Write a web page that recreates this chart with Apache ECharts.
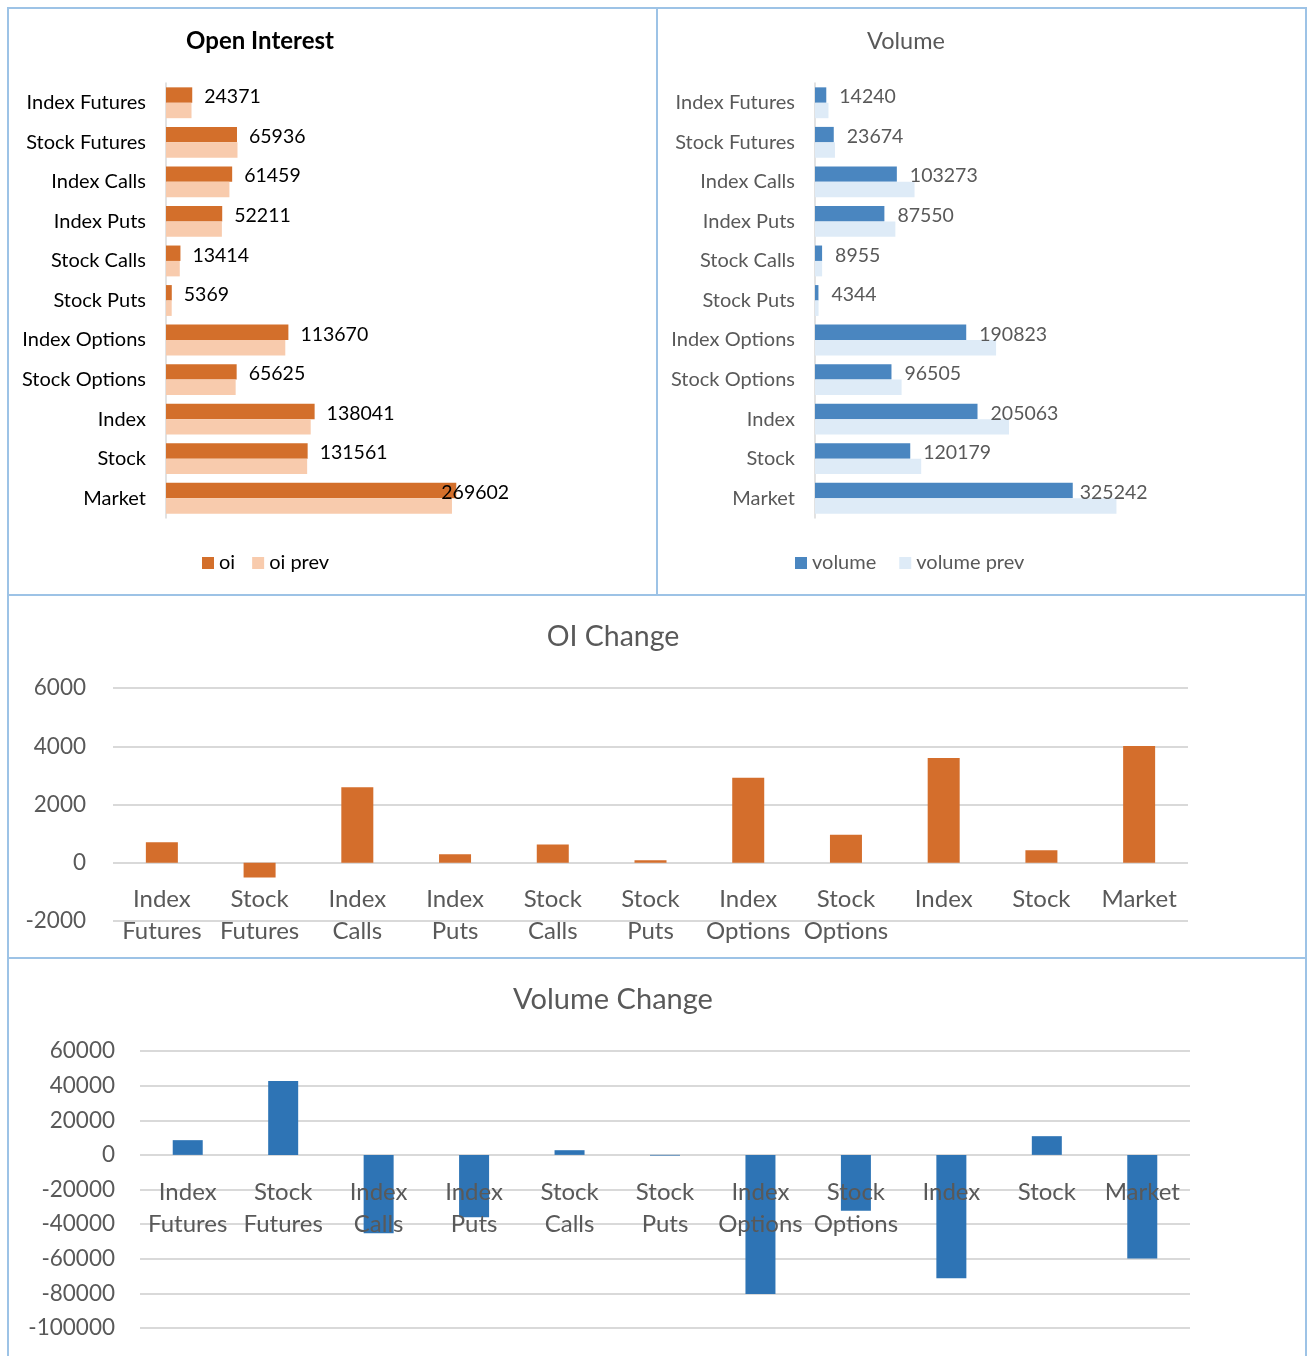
<!DOCTYPE html>
<html>
<head>
<meta charset="utf-8">
<script src="https://cdn.jsdelivr.net/npm/echarts@6/dist/echarts.min.js"></script>
<style>
  html, body { margin: 0; padding: 0; background: #fff; }
  #chart { width: 1308px; height: 1356px; }
</style>
</head>
<body>
<div id="chart"></div>
<script>
const categories = ['Index Futures', 'Stock Futures', 'Index Calls', 'Index Puts', 'Stock Calls', 'Stock Puts',
  'Index Options', 'Stock Options', 'Index', 'Stock', 'Market']

const oi = [24371, 65936, 61459, 52211, 13414, 5369, 113670, 65625, 138041, 131561, 269602]
const oiPrev = [23700, 66400, 58900, 51900, 12800, 5300, 110800, 64700, 134400, 131100, 265600]
const volume = [14240, 23674, 103273, 87550, 8955, 4344, 190823, 96505, 205063, 120179, 325242]
const volumePrev = [17000, 25200, 125600, 101400, 9000, 4500, 228500, 109300, 244800, 134000, 380400]
const oiChange = [700, -510, 2590, 295, 625, 90, 2920, 965, 3600, 430, 4010]
const volumeChange = [8500, 42700, -45200, -36000, 2700, -400, -80400, -32300, -71300, 10800, -59800]

const oiChangeTicks = [-2000, 0, 2000, 4000, 6000]
const volumeChangeTicks = [-100000, -80000, -60000, -40000, -20000, 0, 20000, 40000, 60000]

const FONT = 'Lato'
const GREY = '#595959'
const GRID_LINE = '#d9d9d9'
const BORDER = '#9dc3e6'

const chart = echarts.init(document.getElementById('chart'))

// the last label sits a little closer to its bar, as in the source sheet
const withLastOffset = (arr, dx) => arr.map((v, i) =>
  i === arr.length - 1 ? { value: v, label: { offset: [dx, 2] } } : v)

// plot boxes of the two column charts
const oiBox = { left: 113, top: 688, width: 1075, height: 233 }
const volBox = { left: 140, top: 1051, width: 1050, height: 277 }

// a box ending on the zero line, so the category labels hang from it like in Excel
const zeroBox = (box, ticks) => ({
  left: box.left, top: box.top, width: box.width,
  height: box.height * ticks[ticks.length - 1] / (ticks[ticks.length - 1] - ticks[0]),
  outerBoundsMode: 'none'
})

const hCategoryAxis = (gridIndex, color) => ({
  type: 'category',
  gridIndex,
  data: categories,
  inverse: true,
  axisLine: { show: true, lineStyle: { color: GRID_LINE, width: 1.5 } },
  axisTick: { show: false },
  axisLabel: { color, fontFamily: FONT, fontSize: 20, margin: 20, interval: 0 }
})

const hiddenCategoryAxis = gridIndex => ({
  type: 'category', gridIndex, data: categories,
  axisLine: { show: false }, axisTick: { show: false }, axisLabel: { show: false }
})

const labelCategoryAxis = gridIndex => ({
  type: 'category',
  gridIndex,
  data: categories,
  z: 10,
  axisLine: { show: false },
  axisTick: { show: false },
  axisLabel: {
    color: GREY, fontFamily: FONT, fontSize: 24, lineHeight: 32, margin: 21, interval: 0,
    formatter: v => v.replace(' ', '\n')
  }
})

const valueAxis = (gridIndex, ticks, margin) => ({
  type: 'value',
  gridIndex,
  min: ticks[0],
  max: ticks[ticks.length - 1],
  interval: ticks[1] - ticks[0],
  axisLine: { show: false },
  axisTick: { show: false },
  splitLine: { lineStyle: { color: GRID_LINE, width: 2 } },
  axisLabel: { color: GREY, fontFamily: FONT, fontSize: 22.5, margin, formatter: v => String(v) }
})

const option = {
  animation: false,
  textStyle: { fontFamily: FONT },
  graphic: [
    { type: 'rect', shape: { x: 8, y: 8, width: 649, height: 587 }, style: { fill: 'none', stroke: BORDER, lineWidth: 2 } },
    { type: 'rect', shape: { x: 657, y: 8, width: 649, height: 587 }, style: { fill: 'none', stroke: BORDER, lineWidth: 2 } },
    { type: 'rect', shape: { x: 8, y: 595, width: 1298, height: 363 }, style: { fill: 'none', stroke: BORDER, lineWidth: 2 } },
    { type: 'rect', shape: { x: 8, y: 958, width: 1298, height: 420 }, style: { fill: 'none', stroke: BORDER, lineWidth: 2 } },
    { type: 'text', x: 260, y: 41, style: { text: 'Open Interest', fill: '#000', font: 'bold 24px ' + FONT, textAlign: 'center', textVerticalAlign: 'middle' } },
    { type: 'text', x: 906, y: 41, style: { text: 'Volume', fill: GREY, font: '23.5px ' + FONT, textAlign: 'center', textVerticalAlign: 'middle' } },
    { type: 'text', x: 613, y: 637, style: { text: 'OI Change', fill: GREY, font: '28.5px ' + FONT, textAlign: 'center', textVerticalAlign: 'middle' } },
    { type: 'text', x: 613, y: 1000, style: { text: 'Volume Change', fill: GREY, font: '29px ' + FONT, textAlign: 'center', textVerticalAlign: 'middle' } }
  ],
  legend: [
    {
      data: ['oi', 'oi prev'],
      left: 202, top: 553, padding: 0,
      itemWidth: 12, itemHeight: 12, itemGap: 17,
      icon: 'rect',
      textStyle: { color: '#000', fontFamily: FONT, fontSize: 20 }
    },
    {
      data: ['volume', 'volume prev'],
      left: 795, top: 553, padding: 0,
      itemWidth: 12, itemHeight: 12, itemGap: 23,
      icon: 'rect',
      textStyle: { color: GREY, fontFamily: FONT, fontSize: 20 }
    }
  ],
  grid: [
    { left: 166, top: 83, width: 323, height: 435, outerBoundsMode: 'none' },
    { left: 815, top: 83, width: 317, height: 435, outerBoundsMode: 'none' },
    Object.assign({ outerBoundsMode: 'none' }, oiBox),
    Object.assign({ outerBoundsMode: 'none' }, volBox),
    zeroBox(oiBox, oiChangeTicks),
    zeroBox(volBox, volumeChangeTicks)
  ],
  xAxis: [
    { type: 'value', gridIndex: 0, min: 0, max: 300000, show: false },
    { type: 'value', gridIndex: 1, min: 0, max: 400000, show: false },
    hiddenCategoryAxis(2),
    hiddenCategoryAxis(3),
    labelCategoryAxis(4),
    labelCategoryAxis(5)
  ],
  yAxis: [
    hCategoryAxis(0, '#000'),
    hCategoryAxis(1, GREY),
    valueAxis(2, oiChangeTicks, 27),
    valueAxis(3, volumeChangeTicks, 25),
    { type: 'value', gridIndex: 4, show: false },
    { type: 'value', gridIndex: 5, show: false }
  ],
  series: [
    {
      name: 'oi', type: 'bar', xAxisIndex: 0, yAxisIndex: 0,
      data: withLastOffset(oi, -27),
      barGap: '0%', barCategoryGap: '22%',
      itemStyle: { color: '#d36f2b' },
      label: { show: true, position: 'right', distance: 12, offset: [0, 2], color: '#000', fontFamily: FONT, fontSize: 19.5 }
    },
    {
      name: 'oi prev', type: 'bar', xAxisIndex: 0, yAxisIndex: 0,
      data: oiPrev,
      barGap: '0%', barCategoryGap: '22%',
      itemStyle: { color: '#f8cbad' }
    },
    {
      name: 'volume', type: 'bar', xAxisIndex: 1, yAxisIndex: 1,
      data: withLastOffset(volume, -6),
      barGap: '0%', barCategoryGap: '22%',
      itemStyle: { color: '#4a86c0' },
      label: { show: true, position: 'right', distance: 13, offset: [0, 2], color: GREY, fontFamily: FONT, fontSize: 19.5 }
    },
    {
      name: 'volume prev', type: 'bar', xAxisIndex: 1, yAxisIndex: 1,
      data: volumePrev,
      barGap: '0%', barCategoryGap: '22%',
      itemStyle: { color: '#deebf7' }
    },
    {
      name: 'OI Change', type: 'bar', xAxisIndex: 2, yAxisIndex: 2,
      data: oiChange,
      barWidth: 32,
      itemStyle: { color: '#d46e2c' }
    },
    {
      name: 'Volume Change', type: 'bar', xAxisIndex: 3, yAxisIndex: 3,
      data: volumeChange,
      barWidth: 30,
      itemStyle: { color: '#2e74b5' }
    }
  ]
}

chart.setOption(option)
</script>
</body>
</html>
